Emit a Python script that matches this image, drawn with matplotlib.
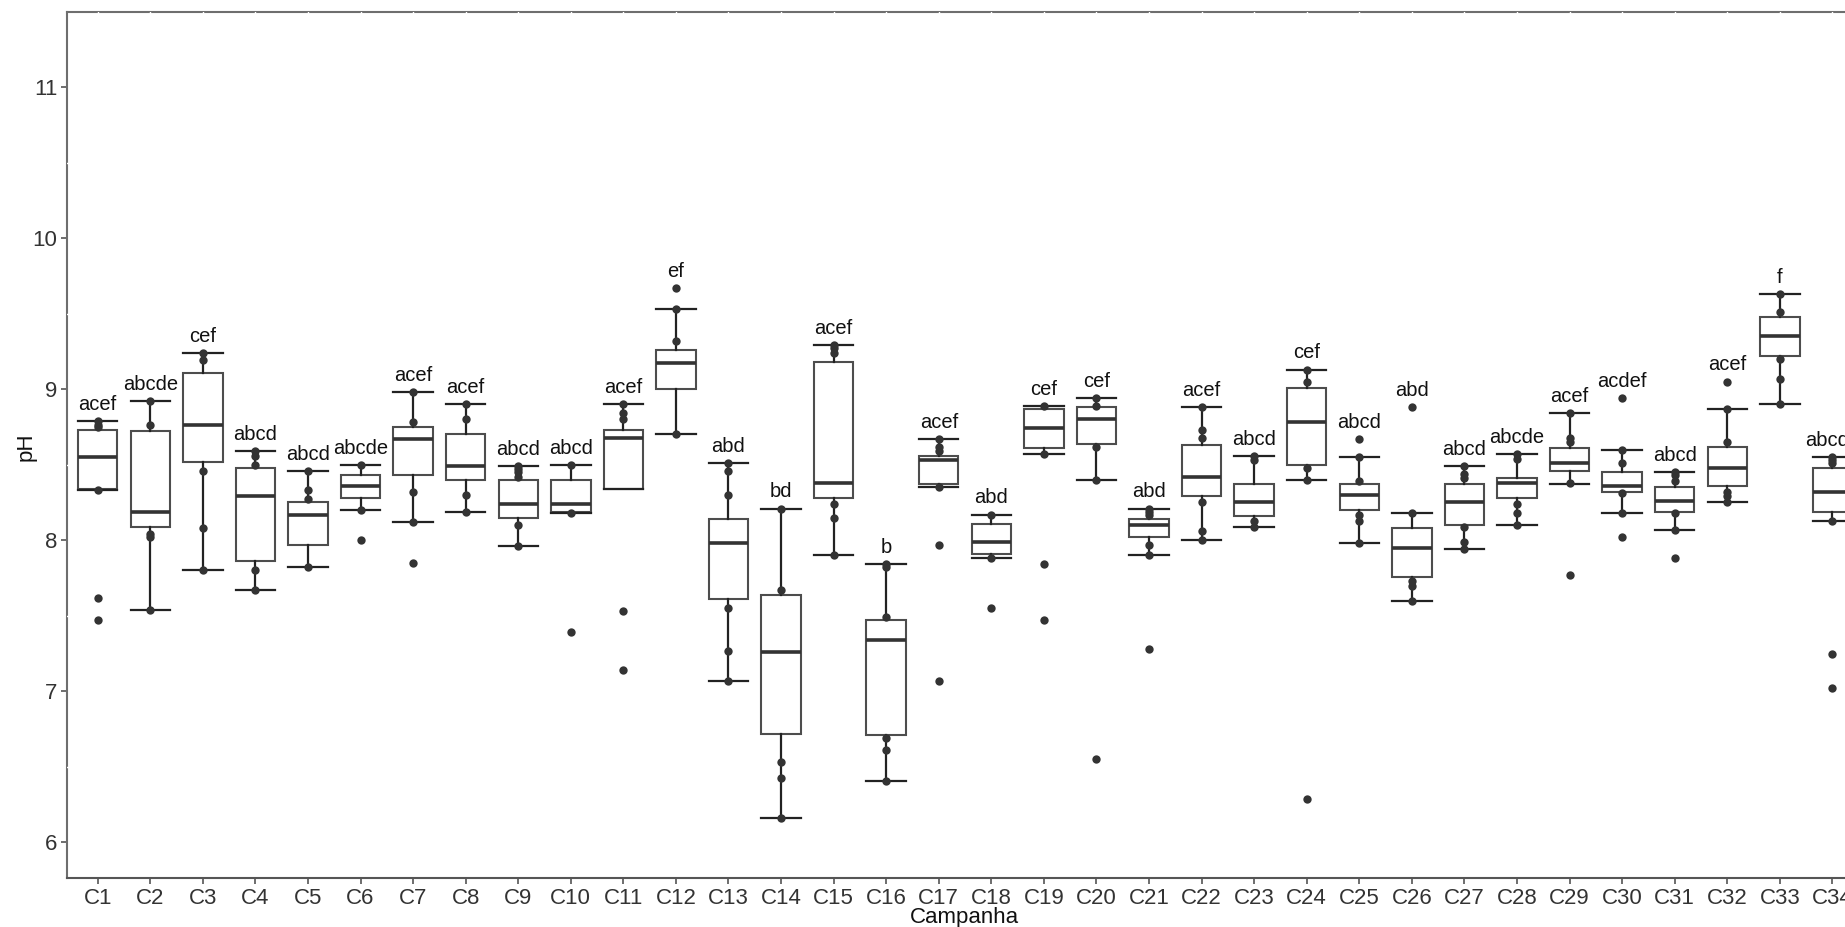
import matplotlib
matplotlib.use("Agg")
import matplotlib.pyplot as plt
import numpy as np
import warnings
warnings.filterwarnings("ignore")

# ---------------- data ----------------
categories = [f"C{i}" for i in range(1, 35)]

q1 = [8.34, 8.09, 8.52, 7.86, 7.97, 8.28, 8.43, 8.40, 8.15, 8.19,
      8.34, 9.00, 7.61, 6.72, 8.28, 6.71, 8.37, 7.91, 8.61, 8.64,
      8.02, 8.29, 8.16, 8.50, 8.20, 7.76, 8.10, 8.28, 8.46, 8.32,
      8.19, 8.36, 9.22, 8.19]
median = [8.55, 8.19, 8.76, 8.29, 8.17, 8.36, 8.67, 8.49, 8.24, 8.24,
          8.68, 9.17, 7.98, 7.26, 8.38, 7.34, 8.53, 7.99, 8.74, 8.80,
          8.10, 8.42, 8.25, 8.78, 8.30, 7.95, 8.25, 8.38, 8.51, 8.36,
          8.26, 8.48, 9.35, 8.32]
q3 = [8.73, 8.72, 9.11, 8.48, 8.25, 8.43, 8.75, 8.70, 8.40, 8.40,
      8.73, 9.26, 8.14, 7.64, 9.18, 7.47, 8.56, 8.11, 8.87, 8.88,
      8.14, 8.63, 8.37, 9.01, 8.37, 8.08, 8.37, 8.41, 8.61, 8.45,
      8.35, 8.62, 9.48, 8.48]
whisker_lo = [8.33, 7.54, 7.80, 7.67, 7.82, 8.20, 8.12, 8.19, 7.96, 8.18,
              8.34, 8.70, 7.07, 6.16, 7.90, 6.41, 8.35, 7.88, 8.57, 8.40,
              7.90, 8.00, 8.09, 8.40, 7.98, 7.60, 7.94, 8.10, 8.37, 8.18,
              8.07, 8.25, 8.90, 8.13]
whisker_hi = [8.79, 8.92, 9.24, 8.59, 8.46, 8.50, 8.98, 8.90, 8.49, 8.50,
              8.90, 9.53, 8.51, 8.21, 9.29, 7.84, 8.67, 8.17, 8.89, 8.94,
              8.21, 8.88, 8.56, 9.13, 8.55, 8.18, 8.49, 8.57, 8.84, 8.60,
              8.45, 8.87, 9.63, 8.55]
points = [
    [8.79, 8.76, 8.75, 8.33, 7.62, 7.47],
    [8.92, 8.76, 8.04, 8.02, 7.54],
    [9.24, 9.19, 8.46, 8.08, 7.80],
    [8.59, 8.56, 8.50, 7.80, 7.67],
    [8.46, 8.33, 8.27, 7.82],
    [8.50, 8.20, 8.00],
    [8.98, 8.78, 8.32, 8.12, 7.85],
    [8.90, 8.80, 8.30, 8.19],
    [8.49, 8.47, 8.45, 8.42, 8.10, 7.96],
    [8.50, 8.18, 7.39],
    [8.90, 8.84, 8.80, 7.53, 7.14],
    [9.67, 9.53, 9.32, 8.70],
    [8.51, 8.46, 8.30, 7.55, 7.27, 7.07],
    [8.21, 7.67, 6.53, 6.43, 6.16],
    [9.29, 9.27, 9.24, 8.24, 8.15, 7.90],
    [7.84, 7.82, 7.49, 6.69, 6.61, 6.41],
    [8.67, 8.62, 8.59, 8.35, 7.97, 7.07],
    [8.17, 7.88, 7.55],
    [8.89, 8.57, 7.84, 7.47],
    [8.94, 8.89, 8.62, 8.40, 6.55],
    [8.21, 8.19, 8.17, 7.97, 7.90, 7.28],
    [8.88, 8.73, 8.68, 8.25, 8.06, 8.00],
    [8.56, 8.53, 8.13, 8.09],
    [9.13, 9.05, 8.48, 8.40, 6.29],
    [8.67, 8.55, 8.39, 8.17, 8.13, 7.98],
    [8.88, 8.18, 7.73, 7.70, 7.60],
    [8.49, 8.44, 8.41, 8.09, 7.99, 7.94],
    [8.57, 8.54, 8.24, 8.18, 8.10],
    [8.84, 8.68, 8.65, 8.38, 7.77],
    [8.94, 8.60, 8.51, 8.31, 8.18, 8.02],
    [8.45, 8.43, 8.39, 8.18, 8.07, 7.88],
    [9.05, 8.87, 8.65, 8.32, 8.29, 8.25],
    [9.63, 9.51, 9.20, 9.07, 8.90],
    [8.55, 8.53, 8.51, 8.13, 7.25, 7.02],
]
letters = ["acef", "abcde", "cef", "abcd", "abcd", "abcde", "acef", "acef",
           "abcd", "abcd", "acef", "ef", "abd", "bd", "acef", "b", "acef",
           "abd", "cef", "cef", "abd", "acef", "abcd", "cef", "abcd", "abd",
           "abcd", "abcde", "acef", "acdef", "abcd", "acef", "f", "abcde"]
y_ticks = [6, 7, 8, 9, 10, 11]

# ---------------- figure ----------------
W, H = 1845, 927
fig = plt.figure(figsize=(W / 100, H / 100), dpi=100)
left_px, right_px, top_px, bottom_px = 67, 1845, 12, 878
ax = fig.add_axes([left_px / W, 1 - bottom_px / H,
                   (right_px - left_px) / W, (bottom_px - top_px) / H])

tick_font = ["Liberation Sans Narrow", "Liberation Sans", "DejaVu Sans"]
text_font = ["Liberation Sans", "DejaVu Sans"]

pos = np.arange(1, len(categories) + 1)
stats = []
for i in range(len(categories)):
    stats.append(dict(q1=q1[i], med=median[i], q3=q3[i],
                      whislo=whisker_lo[i], whishi=whisker_hi[i],
                      fliers=[], label=categories[i]))

ax.bxp(stats, positions=pos, widths=0.75, showfliers=False,
       patch_artist=True, capwidths=0.75,
       boxprops=dict(facecolor="white", edgecolor="#4d4d4d", linewidth=1.5),
       medianprops=dict(color="#333333", linewidth=2.6),
       whiskerprops=dict(color="#222222", linewidth=1.6),
       capprops=dict(color="#222222", linewidth=1.6), zorder=4)

for i, pts in enumerate(points):
    ax.scatter(np.full(len(pts), pos[i]), pts, s=36, color="#333333",
               zorder=6, linewidths=0)
    top = max(max(pts), whisker_hi[i])
    ax.text(pos[i], top + 0.11, letters[i], ha="center", va="center",
            fontsize=14.5, family=text_font, color="#111111", zorder=7)

ax.set_xlim(0.416, 34.24)
ax.set_ylim(5.765, 11.496)

# white grid lines breaking the border, like the reference
for p in pos:
    ax.axvline(p, ymin=0.5, ymax=1.0, color="white", lw=1.0, zorder=3)
for yv in [6.5, 7.5, 8.5, 9.5, 10.5]:
    ax.axhline(yv, xmin=0, xmax=0.5, color="white", lw=1.0, zorder=3)

for s in ["left", "top", "bottom"]:
    ax.spines[s].set_color("#6e6e6e")
    ax.spines[s].set_linewidth(1.5)
ax.spines["bottom"].set_color("#555555")
ax.spines["right"].set_visible(False)

ax.set_xticks(pos)
ax.set_xticklabels(categories, family=tick_font, fontsize=16, color="#333333")
ax.set_yticks(y_ticks)
ax.set_yticklabels([str(v) for v in y_ticks], family=tick_font, fontsize=16,
                   color="#333333")
ax.tick_params(axis="both", length=4, width=1.2, color="#555555", pad=3)

ax.set_xlabel("Campanha", family=tick_font, fontsize=16, color="#111111")
ax.xaxis.set_label_coords(0.505, -0.046)
ax.xaxis.label.set_va("center")
ax.set_ylabel("pH", family=tick_font, fontsize=16, color="#111111")
ax.yaxis.set_label_coords(-0.023, 0.498)
ax.yaxis.label.set_va("center")

fig.savefig("out.png", dpi=100)
